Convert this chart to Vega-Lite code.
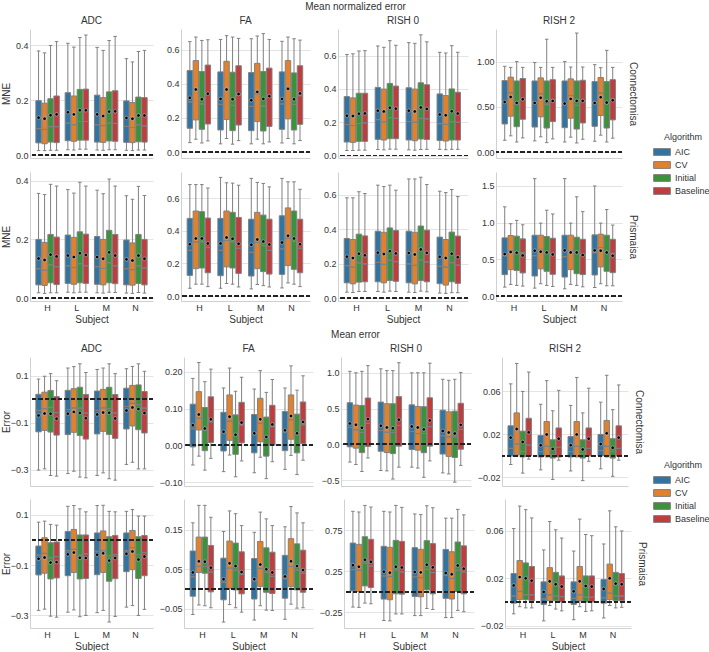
{
"$schema":"https://vega.github.io/schema/vega-lite/v6.json",
"padding":{"left":1,"top":2,"right":0,"bottom":0},
"datasets":{"d":[
{"p":"NC-ADC","Subject":"H","Algorithm":"AIC","lo":0.017,"q1":0.045,"md":0.097,"q3":0.199,"hi":0.38,"mn":0.137},
{"p":"NC-ADC","Subject":"H","Algorithm":"CV","lo":0.017,"q1":0.042,"md":0.094,"q3":0.19,"hi":0.373,"mn":0.133},
{"p":"NC-ADC","Subject":"H","Algorithm":"Initial","lo":0.018,"q1":0.048,"md":0.104,"q3":0.206,"hi":0.4,"mn":0.146},
{"p":"NC-ADC","Subject":"H","Algorithm":"Baseline","lo":0.018,"q1":0.046,"md":0.104,"q3":0.216,"hi":0.414,"mn":0.149},
{"p":"NC-ADC","Subject":"L","Algorithm":"AIC","lo":0.02,"q1":0.053,"md":0.117,"q3":0.228,"hi":0.408,"mn":0.157},
{"p":"NC-ADC","Subject":"L","Algorithm":"CV","lo":0.019,"q1":0.051,"md":0.111,"q3":0.216,"hi":0.394,"mn":0.149},
{"p":"NC-ADC","Subject":"L","Algorithm":"Initial","lo":0.022,"q1":0.055,"md":0.123,"q3":0.24,"hi":0.429,"mn":0.164},
{"p":"NC-ADC","Subject":"L","Algorithm":"Baseline","lo":0.022,"q1":0.055,"md":0.123,"q3":0.241,"hi":0.438,"mn":0.164},
{"p":"NC-ADC","Subject":"M","Algorithm":"AIC","lo":0.019,"q1":0.048,"md":0.111,"q3":0.219,"hi":0.393,"mn":0.149},
{"p":"NC-ADC","Subject":"M","Algorithm":"CV","lo":0.018,"q1":0.047,"md":0.108,"q3":0.21,"hi":0.382,"mn":0.143},
{"p":"NC-ADC","Subject":"M","Algorithm":"Initial","lo":0.02,"q1":0.052,"md":0.117,"q3":0.231,"hi":0.418,"mn":0.159},
{"p":"NC-ADC","Subject":"M","Algorithm":"Baseline","lo":0.02,"q1":0.051,"md":0.116,"q3":0.235,"hi":0.433,"mn":0.16},
{"p":"NC-ADC","Subject":"N","Algorithm":"AIC","lo":0.018,"q1":0.047,"md":0.105,"q3":0.198,"hi":0.352,"mn":0.136},
{"p":"NC-ADC","Subject":"N","Algorithm":"CV","lo":0.017,"q1":0.046,"md":0.101,"q3":0.192,"hi":0.34,"mn":0.133},
{"p":"NC-ADC","Subject":"N","Algorithm":"Initial","lo":0.019,"q1":0.049,"md":0.111,"q3":0.212,"hi":0.378,"mn":0.145},
{"p":"NC-ADC","Subject":"N","Algorithm":"Baseline","lo":0.019,"q1":0.048,"md":0.107,"q3":0.21,"hi":0.382,"mn":0.145},
{"p":"NC-FA","Subject":"H","Algorithm":"AIC","lo":0.055,"q1":0.139,"md":0.293,"q3":0.477,"hi":0.646,"mn":0.317},
{"p":"NC-FA","Subject":"H","Algorithm":"CV","lo":0.075,"q1":0.188,"md":0.368,"q3":0.535,"hi":0.673,"mn":0.366},
{"p":"NC-FA","Subject":"H","Algorithm":"Initial","lo":0.053,"q1":0.133,"md":0.281,"q3":0.471,"hi":0.653,"mn":0.309},
{"p":"NC-FA","Subject":"H","Algorithm":"Baseline","lo":0.065,"q1":0.164,"md":0.337,"q3":0.509,"hi":0.657,"mn":0.341},
{"p":"NC-FA","Subject":"L","Algorithm":"AIC","lo":0.048,"q1":0.129,"md":0.279,"q3":0.469,"hi":0.659,"mn":0.311},
{"p":"NC-FA","Subject":"L","Algorithm":"CV","lo":0.079,"q1":0.19,"md":0.366,"q3":0.531,"hi":0.681,"mn":0.366},
{"p":"NC-FA","Subject":"L","Algorithm":"Initial","lo":0.046,"q1":0.125,"md":0.273,"q3":0.467,"hi":0.673,"mn":0.309},
{"p":"NC-FA","Subject":"L","Algorithm":"Baseline","lo":0.067,"q1":0.158,"md":0.333,"q3":0.505,"hi":0.665,"mn":0.339},
{"p":"NC-FA","Subject":"M","Algorithm":"AIC","lo":0.048,"q1":0.125,"md":0.267,"q3":0.465,"hi":0.663,"mn":0.303},
{"p":"NC-FA","Subject":"M","Algorithm":"CV","lo":0.075,"q1":0.178,"md":0.341,"q3":0.519,"hi":0.679,"mn":0.352},
{"p":"NC-FA","Subject":"M","Algorithm":"Initial","lo":0.048,"q1":0.123,"md":0.269,"q3":0.471,"hi":0.693,"mn":0.311},
{"p":"NC-FA","Subject":"M","Algorithm":"Baseline","lo":0.059,"q1":0.15,"md":0.319,"q3":0.491,"hi":0.659,"mn":0.327},
{"p":"NC-FA","Subject":"N","Algorithm":"AIC","lo":0.053,"q1":0.133,"md":0.281,"q3":0.469,"hi":0.648,"mn":0.311},
{"p":"NC-FA","Subject":"N","Algorithm":"CV","lo":0.079,"q1":0.194,"md":0.368,"q3":0.535,"hi":0.673,"mn":0.37},
{"p":"NC-FA","Subject":"N","Algorithm":"Initial","lo":0.048,"q1":0.129,"md":0.279,"q3":0.463,"hi":0.663,"mn":0.309},
{"p":"NC-FA","Subject":"N","Algorithm":"Baseline","lo":0.067,"q1":0.162,"md":0.329,"q3":0.505,"hi":0.655,"mn":0.343},
{"p":"NC-R0","Subject":"H","Algorithm":"AIC","lo":0.03,"q1":0.081,"md":0.186,"q3":0.354,"hi":0.607,"mn":0.239},
{"p":"NC-R0","Subject":"H","Algorithm":"CV","lo":0.03,"q1":0.079,"md":0.18,"q3":0.346,"hi":0.611,"mn":0.237},
{"p":"NC-R0","Subject":"H","Algorithm":"Initial","lo":0.032,"q1":0.085,"md":0.192,"q3":0.374,"hi":0.628,"mn":0.251},
{"p":"NC-R0","Subject":"H","Algorithm":"Baseline","lo":0.032,"q1":0.085,"md":0.196,"q3":0.374,"hi":0.63,"mn":0.253},
{"p":"NC-R0","Subject":"L","Algorithm":"AIC","lo":0.036,"q1":0.097,"md":0.215,"q3":0.409,"hi":0.658,"mn":0.269},
{"p":"NC-R0","Subject":"L","Algorithm":"CV","lo":0.034,"q1":0.093,"md":0.202,"q3":0.399,"hi":0.65,"mn":0.265},
{"p":"NC-R0","Subject":"L","Algorithm":"Initial","lo":0.038,"q1":0.101,"md":0.227,"q3":0.433,"hi":0.69,"mn":0.287},
{"p":"NC-R0","Subject":"L","Algorithm":"Baseline","lo":0.038,"q1":0.101,"md":0.223,"q3":0.417,"hi":0.662,"mn":0.281},
{"p":"NC-R0","Subject":"M","Algorithm":"AIC","lo":0.034,"q1":0.093,"md":0.204,"q3":0.407,"hi":0.678,"mn":0.269},
{"p":"NC-R0","Subject":"M","Algorithm":"CV","lo":0.032,"q1":0.089,"md":0.2,"q3":0.399,"hi":0.674,"mn":0.265},
{"p":"NC-R0","Subject":"M","Algorithm":"Initial","lo":0.036,"q1":0.099,"md":0.223,"q3":0.437,"hi":0.725,"mn":0.289},
{"p":"NC-R0","Subject":"M","Algorithm":"Baseline","lo":0.037,"q1":0.096,"md":0.22,"q3":0.425,"hi":0.683,"mn":0.28},
{"p":"NC-R0","Subject":"N","Algorithm":"AIC","lo":0.037,"q1":0.09,"md":0.191,"q3":0.37,"hi":0.62,"mn":0.246},
{"p":"NC-R0","Subject":"N","Algorithm":"CV","lo":0.035,"q1":0.087,"md":0.187,"q3":0.36,"hi":0.616,"mn":0.242},
{"p":"NC-R0","Subject":"N","Algorithm":"Initial","lo":0.037,"q1":0.093,"md":0.203,"q3":0.4,"hi":0.66,"mn":0.266},
{"p":"NC-R0","Subject":"N","Algorithm":"Baseline","lo":0.037,"q1":0.093,"md":0.2,"q3":0.38,"hi":0.62,"mn":0.252},
{"p":"NC-R2","Subject":"H","Algorithm":"AIC","lo":0.131,"q1":0.311,"md":0.55,"q3":0.79,"hi":0.948,"mn":0.554},
{"p":"NC-R2","Subject":"H","Algorithm":"CV","lo":0.18,"q1":0.397,"md":0.655,"q3":0.828,"hi":0.936,"mn":0.61},
{"p":"NC-R2","Subject":"H","Algorithm":"Initial","lo":0.112,"q1":0.281,"md":0.53,"q3":0.786,"hi":1.0,"mn":0.543},
{"p":"NC-R2","Subject":"H","Algorithm":"Baseline","lo":0.157,"q1":0.363,"md":0.58,"q3":0.813,"hi":0.936,"mn":0.584},
{"p":"NC-R2","Subject":"L","Algorithm":"AIC","lo":0.124,"q1":0.277,"md":0.55,"q3":0.786,"hi":0.989,"mn":0.543},
{"p":"NC-R2","Subject":"L","Algorithm":"CV","lo":0.169,"q1":0.39,"md":0.644,"q3":0.82,"hi":0.936,"mn":0.6},
{"p":"NC-R2","Subject":"L","Algorithm":"Initial","lo":0.105,"q1":0.266,"md":0.524,"q3":0.786,"hi":1.247,"mn":0.562},
{"p":"NC-R2","Subject":"L","Algorithm":"Baseline","lo":0.146,"q1":0.337,"md":0.577,"q3":0.8,"hi":0.936,"mn":0.566},
{"p":"NC-R2","Subject":"M","Algorithm":"AIC","lo":0.112,"q1":0.27,"md":0.54,"q3":0.786,"hi":1.0,"mn":0.536},
{"p":"NC-R2","Subject":"M","Algorithm":"CV","lo":0.165,"q1":0.375,"md":0.625,"q3":0.809,"hi":0.94,"mn":0.588},
{"p":"NC-R2","Subject":"M","Algorithm":"Initial","lo":0.101,"q1":0.255,"md":0.517,"q3":0.786,"hi":1.315,"mn":0.566},
{"p":"NC-R2","Subject":"M","Algorithm":"Baseline","lo":0.142,"q1":0.322,"md":0.566,"q3":0.794,"hi":0.94,"mn":0.566},
{"p":"NC-R2","Subject":"N","Algorithm":"AIC","lo":0.12,"q1":0.285,"md":0.55,"q3":0.779,"hi":0.966,"mn":0.543},
{"p":"NC-R2","Subject":"N","Algorithm":"CV","lo":0.187,"q1":0.404,"md":0.652,"q3":0.824,"hi":0.933,"mn":0.607},
{"p":"NC-R2","Subject":"N","Algorithm":"Initial","lo":0.112,"q1":0.266,"md":0.543,"q3":0.779,"hi":1.124,"mn":0.547},
{"p":"NC-R2","Subject":"N","Algorithm":"Baseline","lo":0.154,"q1":0.356,"md":0.584,"q3":0.8,"hi":0.936,"mn":0.573},
{"p":"NP-ADC","Subject":"H","Algorithm":"AIC","lo":0.018,"q1":0.045,"md":0.1,"q3":0.2,"hi":0.357,"mn":0.135},
{"p":"NP-ADC","Subject":"H","Algorithm":"CV","lo":0.016,"q1":0.043,"md":0.095,"q3":0.19,"hi":0.353,"mn":0.13},
{"p":"NP-ADC","Subject":"H","Algorithm":"Initial","lo":0.018,"q1":0.052,"md":0.113,"q3":0.217,"hi":0.388,"mn":0.148},
{"p":"NP-ADC","Subject":"H","Algorithm":"Baseline","lo":0.018,"q1":0.046,"md":0.107,"q3":0.208,"hi":0.382,"mn":0.142},
{"p":"NP-ADC","Subject":"L","Algorithm":"AIC","lo":0.02,"q1":0.05,"md":0.11,"q3":0.215,"hi":0.37,"mn":0.145},
{"p":"NP-ADC","Subject":"L","Algorithm":"CV","lo":0.018,"q1":0.047,"md":0.104,"q3":0.207,"hi":0.358,"mn":0.14},
{"p":"NP-ADC","Subject":"L","Algorithm":"Initial","lo":0.02,"q1":0.052,"md":0.117,"q3":0.226,"hi":0.395,"mn":0.153},
{"p":"NP-ADC","Subject":"L","Algorithm":"Baseline","lo":0.02,"q1":0.05,"md":0.11,"q3":0.218,"hi":0.382,"mn":0.147},
{"p":"NP-ADC","Subject":"M","Algorithm":"AIC","lo":0.018,"q1":0.047,"md":0.107,"q3":0.21,"hi":0.368,"mn":0.14},
{"p":"NP-ADC","Subject":"M","Algorithm":"CV","lo":0.017,"q1":0.045,"md":0.101,"q3":0.2,"hi":0.356,"mn":0.134},
{"p":"NP-ADC","Subject":"M","Algorithm":"Initial","lo":0.02,"q1":0.052,"md":0.12,"q3":0.231,"hi":0.406,"mn":0.156},
{"p":"NP-ADC","Subject":"M","Algorithm":"Baseline","lo":0.019,"q1":0.049,"md":0.11,"q3":0.217,"hi":0.382,"mn":0.145},
{"p":"NP-ADC","Subject":"N","Algorithm":"AIC","lo":0.017,"q1":0.045,"md":0.1,"q3":0.198,"hi":0.349,"mn":0.132},
{"p":"NP-ADC","Subject":"N","Algorithm":"CV","lo":0.016,"q1":0.044,"md":0.097,"q3":0.188,"hi":0.337,"mn":0.128},
{"p":"NP-ADC","Subject":"N","Algorithm":"Initial","lo":0.019,"q1":0.05,"md":0.11,"q3":0.217,"hi":0.381,"mn":0.145},
{"p":"NP-ADC","Subject":"N","Algorithm":"Baseline","lo":0.017,"q1":0.045,"md":0.102,"q3":0.2,"hi":0.35,"mn":0.134},
{"p":"NP-FA","Subject":"H","Algorithm":"AIC","lo":0.048,"q1":0.127,"md":0.28,"q3":0.476,"hi":0.683,"mn":0.318},
{"p":"NP-FA","Subject":"H","Algorithm":"CV","lo":0.073,"q1":0.168,"md":0.332,"q3":0.521,"hi":0.683,"mn":0.353},
{"p":"NP-FA","Subject":"H","Algorithm":"Initial","lo":0.073,"q1":0.172,"md":0.332,"q3":0.517,"hi":0.683,"mn":0.353},
{"p":"NP-FA","Subject":"H","Algorithm":"Baseline","lo":0.058,"q1":0.143,"md":0.297,"q3":0.478,"hi":0.662,"mn":0.322},
{"p":"NP-FA","Subject":"L","Algorithm":"AIC","lo":0.048,"q1":0.125,"md":0.28,"q3":0.476,"hi":0.727,"mn":0.322},
{"p":"NP-FA","Subject":"L","Algorithm":"CV","lo":0.077,"q1":0.179,"md":0.341,"q3":0.521,"hi":0.694,"mn":0.359},
{"p":"NP-FA","Subject":"L","Algorithm":"Initial","lo":0.073,"q1":0.172,"md":0.332,"q3":0.513,"hi":0.692,"mn":0.351},
{"p":"NP-FA","Subject":"L","Algorithm":"Baseline","lo":0.056,"q1":0.139,"md":0.293,"q3":0.482,"hi":0.679,"mn":0.32},
{"p":"NP-FA","Subject":"M","Algorithm":"AIC","lo":0.044,"q1":0.123,"md":0.268,"q3":0.471,"hi":0.721,"mn":0.314},
{"p":"NP-FA","Subject":"M","Algorithm":"CV","lo":0.071,"q1":0.168,"md":0.33,"q3":0.513,"hi":0.696,"mn":0.347},
{"p":"NP-FA","Subject":"M","Algorithm":"Initial","lo":0.064,"q1":0.15,"md":0.309,"q3":0.496,"hi":0.69,"mn":0.334},
{"p":"NP-FA","Subject":"M","Algorithm":"Baseline","lo":0.056,"q1":0.135,"md":0.28,"q3":0.471,"hi":0.669,"mn":0.316},
{"p":"NP-FA","Subject":"N","Algorithm":"AIC","lo":0.05,"q1":0.133,"md":0.289,"q3":0.492,"hi":0.721,"mn":0.328},
{"p":"NP-FA","Subject":"N","Algorithm":"CV","lo":0.081,"q1":0.187,"md":0.355,"q3":0.54,"hi":0.7,"mn":0.37},
{"p":"NP-FA","Subject":"N","Algorithm":"Initial","lo":0.073,"q1":0.164,"md":0.334,"q3":0.521,"hi":0.7,"mn":0.353},
{"p":"NP-FA","Subject":"N","Algorithm":"Baseline","lo":0.058,"q1":0.143,"md":0.293,"q3":0.471,"hi":0.654,"mn":0.318},
{"p":"NP-R0","Subject":"H","Algorithm":"AIC","lo":0.036,"q1":0.09,"md":0.189,"q3":0.346,"hi":0.581,"mn":0.241},
{"p":"NP-R0","Subject":"H","Algorithm":"CV","lo":0.034,"q1":0.084,"md":0.18,"q3":0.34,"hi":0.581,"mn":0.233},
{"p":"NP-R0","Subject":"H","Algorithm":"Initial","lo":0.04,"q1":0.094,"md":0.205,"q3":0.371,"hi":0.616,"mn":0.258},
{"p":"NP-R0","Subject":"H","Algorithm":"Baseline","lo":0.04,"q1":0.096,"md":0.199,"q3":0.361,"hi":0.606,"mn":0.249},
{"p":"NP-R0","Subject":"L","Algorithm":"AIC","lo":0.04,"q1":0.096,"md":0.208,"q3":0.388,"hi":0.654,"mn":0.264},
{"p":"NP-R0","Subject":"L","Algorithm":"CV","lo":0.036,"q1":0.09,"md":0.197,"q3":0.382,"hi":0.646,"mn":0.256},
{"p":"NP-R0","Subject":"L","Algorithm":"Initial","lo":0.042,"q1":0.103,"md":0.22,"q3":0.407,"hi":0.654,"mn":0.273},
{"p":"NP-R0","Subject":"L","Algorithm":"Baseline","lo":0.04,"q1":0.099,"md":0.212,"q3":0.392,"hi":0.625,"mn":0.26},
{"p":"NP-R0","Subject":"M","Algorithm":"AIC","lo":0.036,"q1":0.09,"md":0.199,"q3":0.388,"hi":0.69,"mn":0.262},
{"p":"NP-R0","Subject":"M","Algorithm":"CV","lo":0.034,"q1":0.084,"md":0.191,"q3":0.382,"hi":0.69,"mn":0.254},
{"p":"NP-R0","Subject":"M","Algorithm":"Initial","lo":0.042,"q1":0.103,"md":0.222,"q3":0.418,"hi":0.7,"mn":0.283},
{"p":"NP-R0","Subject":"M","Algorithm":"Baseline","lo":0.038,"q1":0.096,"md":0.21,"q3":0.394,"hi":0.658,"mn":0.263},
{"p":"NP-R0","Subject":"N","Algorithm":"AIC","lo":0.031,"q1":0.085,"md":0.185,"q3":0.354,"hi":0.619,"mn":0.24},
{"p":"NP-R0","Subject":"N","Algorithm":"CV","lo":0.029,"q1":0.077,"md":0.181,"q3":0.34,"hi":0.611,"mn":0.233},
{"p":"NP-R0","Subject":"N","Algorithm":"Initial","lo":0.033,"q1":0.096,"md":0.206,"q3":0.383,"hi":0.629,"mn":0.258},
{"p":"NP-R0","Subject":"N","Algorithm":"Baseline","lo":0.033,"q1":0.087,"md":0.192,"q3":0.36,"hi":0.588,"mn":0.238},
{"p":"NP-R2","Subject":"H","Algorithm":"AIC","lo":0.124,"q1":0.294,"md":0.55,"q3":0.794,"hi":1.216,"mn":0.573},
{"p":"NP-R2","Subject":"H","Algorithm":"CV","lo":0.161,"q1":0.362,"md":0.62,"q3":0.826,"hi":0.986,"mn":0.601},
{"p":"NP-R2","Subject":"H","Algorithm":"Initial","lo":0.147,"q1":0.349,"md":0.606,"q3":0.817,"hi":1.032,"mn":0.592},
{"p":"NP-R2","Subject":"H","Algorithm":"Baseline","lo":0.138,"q1":0.317,"md":0.592,"q3":0.78,"hi":0.972,"mn":0.555},
{"p":"NP-R2","Subject":"L","Algorithm":"AIC","lo":0.11,"q1":0.275,"md":0.55,"q3":0.83,"hi":1.6,"mn":0.619},
{"p":"NP-R2","Subject":"L","Algorithm":"CV","lo":0.17,"q1":0.372,"md":0.638,"q3":0.83,"hi":0.995,"mn":0.606},
{"p":"NP-R2","Subject":"L","Algorithm":"Initial","lo":0.147,"q1":0.339,"md":0.583,"q3":0.812,"hi":1.17,"mn":0.596},
{"p":"NP-R2","Subject":"L","Algorithm":"Baseline","lo":0.133,"q1":0.298,"md":0.56,"q3":0.789,"hi":1.119,"mn":0.569},
{"p":"NP-R2","Subject":"M","Algorithm":"AIC","lo":0.101,"q1":0.261,"md":0.537,"q3":0.83,"hi":1.6,"mn":0.624},
{"p":"NP-R2","Subject":"M","Algorithm":"CV","lo":0.161,"q1":0.362,"md":0.62,"q3":0.83,"hi":0.995,"mn":0.596},
{"p":"NP-R2","Subject":"M","Algorithm":"Initial","lo":0.147,"q1":0.307,"md":0.592,"q3":0.803,"hi":1.353,"mn":0.596},
{"p":"NP-R2","Subject":"M","Algorithm":"Baseline","lo":0.128,"q1":0.294,"md":0.56,"q3":0.775,"hi":1.151,"mn":0.56},
{"p":"NP-R2","Subject":"N","Algorithm":"AIC","lo":0.119,"q1":0.289,"md":0.592,"q3":0.835,"hi":1.5,"mn":0.624},
{"p":"NP-R2","Subject":"N","Algorithm":"CV","lo":0.17,"q1":0.399,"md":0.661,"q3":0.844,"hi":0.995,"mn":0.619},
{"p":"NP-R2","Subject":"N","Algorithm":"Initial","lo":0.142,"q1":0.339,"md":0.601,"q3":0.83,"hi":1.179,"mn":0.596},
{"p":"NP-R2","Subject":"N","Algorithm":"Baseline","lo":0.142,"q1":0.321,"md":0.583,"q3":0.775,"hi":0.968,"mn":0.55},
{"p":"EC-ADC","Subject":"H","Algorithm":"AIC","lo":-0.302,"q1":-0.139,"md":-0.048,"q3":0.021,"hi":0.086,"mn":-0.069},
{"p":"EC-ADC","Subject":"H","Algorithm":"CV","lo":-0.297,"q1":-0.133,"md":-0.04,"q3":0.03,"hi":0.098,"mn":-0.061},
{"p":"EC-ADC","Subject":"H","Algorithm":"Initial","lo":-0.325,"q1":-0.14,"md":-0.035,"q3":0.037,"hi":0.109,"mn":-0.062},
{"p":"EC-ADC","Subject":"H","Algorithm":"Baseline","lo":-0.328,"q1":-0.153,"md":-0.057,"q3":0.011,"hi":0.079,"mn":-0.083},
{"p":"EC-ADC","Subject":"L","Algorithm":"AIC","lo":-0.317,"q1":-0.151,"md":-0.044,"q3":0.038,"hi":0.133,"mn":-0.062},
{"p":"EC-ADC","Subject":"L","Algorithm":"CV","lo":-0.307,"q1":-0.141,"md":-0.037,"q3":0.045,"hi":0.139,"mn":-0.054},
{"p":"EC-ADC","Subject":"L","Algorithm":"Initial","lo":-0.332,"q1":-0.155,"md":-0.038,"q3":0.051,"hi":0.151,"mn":-0.059},
{"p":"EC-ADC","Subject":"L","Algorithm":"Baseline","lo":-0.335,"q1":-0.17,"md":-0.059,"q3":0.02,"hi":0.114,"mn":-0.081},
{"p":"EC-ADC","Subject":"M","Algorithm":"AIC","lo":-0.325,"q1":-0.148,"md":-0.048,"q3":0.035,"hi":0.127,"mn":-0.065},
{"p":"EC-ADC","Subject":"M","Algorithm":"CV","lo":-0.314,"q1":-0.137,"md":-0.037,"q3":0.042,"hi":0.133,"mn":-0.057},
{"p":"EC-ADC","Subject":"M","Algorithm":"Initial","lo":-0.339,"q1":-0.15,"md":-0.04,"q3":0.051,"hi":0.151,"mn":-0.058},
{"p":"EC-ADC","Subject":"M","Algorithm":"Baseline","lo":-0.345,"q1":-0.167,"md":-0.059,"q3":0.02,"hi":0.109,"mn":-0.082},
{"p":"EC-ADC","Subject":"N","Algorithm":"AIC","lo":-0.278,"q1":-0.127,"md":-0.031,"q3":0.047,"hi":0.13,"mn":-0.048},
{"p":"EC-ADC","Subject":"N","Algorithm":"CV","lo":-0.269,"q1":-0.114,"md":-0.017,"q3":0.059,"hi":0.14,"mn":-0.035},
{"p":"EC-ADC","Subject":"N","Algorithm":"Initial","lo":-0.297,"q1":-0.13,"md":-0.023,"q3":0.061,"hi":0.151,"mn":-0.042},
{"p":"EC-ADC","Subject":"N","Algorithm":"Baseline","lo":-0.297,"q1":-0.144,"md":-0.038,"q3":0.033,"hi":0.119,"mn":-0.059},
{"p":"EC-FA","Subject":"H","Algorithm":"AIC","lo":-0.053,"q1":-0.004,"md":0.045,"q3":0.112,"hi":0.182,"mn":0.055},
{"p":"EC-FA","Subject":"H","Algorithm":"CV","lo":-0.029,"q1":0.042,"md":0.074,"q3":0.146,"hi":0.225,"mn":0.084},
{"p":"EC-FA","Subject":"H","Algorithm":"Initial","lo":-0.067,"q1":-0.014,"md":0.042,"q3":0.103,"hi":0.173,"mn":0.046},
{"p":"EC-FA","Subject":"H","Algorithm":"Baseline","lo":-0.035,"q1":0.008,"md":0.064,"q3":0.132,"hi":0.207,"mn":0.071},
{"p":"EC-FA","Subject":"L","Algorithm":"AIC","lo":-0.071,"q1":-0.015,"md":0.037,"q3":0.09,"hi":0.156,"mn":0.037},
{"p":"EC-FA","Subject":"L","Algorithm":"CV","lo":-0.026,"q1":0.014,"md":0.066,"q3":0.137,"hi":0.21,"mn":0.078},
{"p":"EC-FA","Subject":"L","Algorithm":"Initial","lo":-0.085,"q1":-0.024,"md":0.03,"q3":0.083,"hi":0.147,"mn":0.029},
{"p":"EC-FA","Subject":"L","Algorithm":"Baseline","lo":-0.042,"q1":0.007,"md":0.055,"q3":0.117,"hi":0.185,"mn":0.062},
{"p":"EC-FA","Subject":"M","Algorithm":"AIC","lo":-0.074,"q1":-0.02,"md":0.033,"q3":0.084,"hi":0.153,"mn":0.033},
{"p":"EC-FA","Subject":"M","Algorithm":"CV","lo":-0.032,"q1":0.01,"md":0.06,"q3":0.128,"hi":0.203,"mn":0.071},
{"p":"EC-FA","Subject":"M","Algorithm":"Initial","lo":-0.09,"q1":-0.029,"md":0.022,"q3":0.077,"hi":0.144,"mn":0.023},
{"p":"EC-FA","Subject":"M","Algorithm":"Baseline","lo":-0.044,"q1":0.001,"md":0.051,"q3":0.109,"hi":0.179,"mn":0.057},
{"p":"EC-FA","Subject":"N","Algorithm":"AIC","lo":-0.065,"q1":-0.014,"md":0.037,"q3":0.092,"hi":0.156,"mn":0.041},
{"p":"EC-FA","Subject":"N","Algorithm":"CV","lo":-0.027,"q1":0.017,"md":0.07,"q3":0.137,"hi":0.216,"mn":0.08},
{"p":"EC-FA","Subject":"N","Algorithm":"Initial","lo":-0.079,"q1":-0.02,"md":0.033,"q3":0.085,"hi":0.15,"mn":0.033},
{"p":"EC-FA","Subject":"N","Algorithm":"Baseline","lo":-0.04,"q1":0.005,"md":0.056,"q3":0.118,"hi":0.189,"mn":0.064},
{"p":"EC-R0","Subject":"H","Algorithm":"AIC","lo":-0.246,"q1":-0.033,"md":0.237,"q3":0.582,"hi":1.02,"mn":0.293},
{"p":"EC-R0","Subject":"H","Algorithm":"CV","lo":-0.28,"q1":-0.052,"md":0.203,"q3":0.549,"hi":1.0,"mn":0.274},
{"p":"EC-R0","Subject":"H","Algorithm":"Initial","lo":-0.378,"q1":-0.114,"md":0.166,"q3":0.544,"hi":1.02,"mn":0.232},
{"p":"EC-R0","Subject":"H","Algorithm":"Baseline","lo":-0.189,"q1":-0.028,"md":0.293,"q3":0.648,"hi":1.1,"mn":0.355},
{"p":"EC-R0","Subject":"L","Algorithm":"AIC","lo":-0.364,"q1":-0.095,"md":0.194,"q3":0.591,"hi":1.055,"mn":0.26},
{"p":"EC-R0","Subject":"L","Algorithm":"CV","lo":-0.369,"q1":-0.114,"md":0.17,"q3":0.568,"hi":1.03,"mn":0.237},
{"p":"EC-R0","Subject":"L","Algorithm":"Initial","lo":-0.483,"q1":-0.128,"md":0.166,"q3":0.568,"hi":1.03,"mn":0.227},
{"p":"EC-R0","Subject":"L","Algorithm":"Baseline","lo":-0.317,"q1":-0.024,"md":0.265,"q3":0.667,"hi":1.14,"mn":0.345},
{"p":"EC-R0","Subject":"M","Algorithm":"AIC","lo":-0.317,"q1":-0.071,"md":0.18,"q3":0.553,"hi":1.0,"mn":0.251},
{"p":"EC-R0","Subject":"M","Algorithm":"CV","lo":-0.33,"q1":-0.08,"md":0.151,"q3":0.53,"hi":1.0,"mn":0.237},
{"p":"EC-R0","Subject":"M","Algorithm":"Initial","lo":-0.459,"q1":-0.115,"md":0.153,"q3":0.526,"hi":1.0,"mn":0.21},
{"p":"EC-R0","Subject":"M","Algorithm":"Baseline","lo":-0.23,"q1":-0.024,"md":0.249,"q3":0.651,"hi":1.134,"mn":0.335},
{"p":"EC-R0","Subject":"N","Algorithm":"AIC","lo":-0.397,"q1":-0.134,"md":0.12,"q3":0.478,"hi":0.909,"mn":0.187},
{"p":"EC-R0","Subject":"N","Algorithm":"CV","lo":-0.411,"q1":-0.167,"md":0.105,"q3":0.455,"hi":0.895,"mn":0.167},
{"p":"EC-R0","Subject":"N","Algorithm":"Initial","lo":-0.526,"q1":-0.182,"md":0.105,"q3":0.464,"hi":0.909,"mn":0.153},
{"p":"EC-R0","Subject":"N","Algorithm":"Baseline","lo":-0.292,"q1":-0.067,"md":0.211,"q3":0.574,"hi":1.005,"mn":0.273},
{"p":"EC-R2","Subject":"H","Algorithm":"AIC","lo":-0.008,"q1":0.0,"md":0.007,"q3":0.028,"hi":0.067,"mn":0.017},
{"p":"EC-R2","Subject":"H","Algorithm":"CV","lo":0.0,"q1":0.001,"md":0.011,"q3":0.04,"hi":0.086,"mn":0.025},
{"p":"EC-R2","Subject":"H","Algorithm":"Initial","lo":-0.016,"q1":-0.001,"md":0.004,"q3":0.023,"hi":0.06,"mn":0.013},
{"p":"EC-R2","Subject":"H","Algorithm":"Baseline","lo":-0.003,"q1":0.0,"md":0.01,"q3":0.035,"hi":0.078,"mn":0.022},
{"p":"EC-R2","Subject":"L","Algorithm":"AIC","lo":-0.013,"q1":-0.001,"md":0.004,"q3":0.019,"hi":0.048,"mn":0.01},
{"p":"EC-R2","Subject":"L","Algorithm":"CV","lo":-0.001,"q1":0.0,"md":0.009,"q3":0.032,"hi":0.07,"mn":0.02},
{"p":"EC-R2","Subject":"L","Algorithm":"Initial","lo":-0.022,"q1":-0.002,"md":0.001,"q3":0.015,"hi":0.042,"mn":0.0065},
{"p":"EC-R2","Subject":"L","Algorithm":"Baseline","lo":-0.004,"q1":-0.001,"md":0.008,"q3":0.026,"hi":0.061,"mn":0.016},
{"p":"EC-R2","Subject":"M","Algorithm":"AIC","lo":-0.014,"q1":-0.001,"md":0.004,"q3":0.018,"hi":0.047,"mn":0.01},
{"p":"EC-R2","Subject":"M","Algorithm":"CV","lo":-0.001,"q1":0.0,"md":0.009,"q3":0.032,"hi":0.073,"mn":0.02},
{"p":"EC-R2","Subject":"M","Algorithm":"Initial","lo":-0.023,"q1":-0.002,"md":0.002,"q3":0.015,"hi":0.04,"mn":0.006},
{"p":"EC-R2","Subject":"M","Algorithm":"Baseline","lo":-0.005,"q1":0.0,"md":0.007,"q3":0.026,"hi":0.063,"mn":0.016},
{"p":"EC-R2","Subject":"N","Algorithm":"AIC","lo":-0.012,"q1":0.0,"md":0.005,"q3":0.02,"hi":0.05,"mn":0.011},
{"p":"EC-R2","Subject":"N","Algorithm":"CV","lo":-0.001,"q1":0.0,"md":0.009,"q3":0.033,"hi":0.075,"mn":0.021},
{"p":"EC-R2","Subject":"N","Algorithm":"Initial","lo":-0.019,"q1":-0.002,"md":0.004,"q3":0.016,"hi":0.043,"mn":0.0075},
{"p":"EC-R2","Subject":"N","Algorithm":"Baseline","lo":-0.004,"q1":0.0,"md":0.007,"q3":0.028,"hi":0.066,"mn":0.017},
{"p":"EP-ADC","Subject":"H","Algorithm":"AIC","lo":-0.28,"q1":-0.139,"md":-0.06,"q3":-0.024,"hi":0.071,"mn":-0.075},
{"p":"EP-ADC","Subject":"H","Algorithm":"CV","lo":-0.275,"q1":-0.132,"md":-0.053,"q3":0.009,"hi":0.075,"mn":-0.07},
{"p":"EP-ADC","Subject":"H","Algorithm":"Initial","lo":-0.303,"q1":-0.155,"md":-0.071,"q3":-0.011,"hi":0.062,"mn":-0.09},
{"p":"EP-ADC","Subject":"H","Algorithm":"Baseline","lo":-0.307,"q1":-0.151,"md":-0.066,"q3":-0.008,"hi":0.059,"mn":-0.088},
{"p":"EP-ADC","Subject":"L","Algorithm":"AIC","lo":-0.287,"q1":-0.142,"md":-0.043,"q3":0.034,"hi":0.134,"mn":-0.057},
{"p":"EP-ADC","Subject":"L","Algorithm":"CV","lo":-0.278,"q1":-0.129,"md":-0.037,"q3":0.042,"hi":0.137,"mn":-0.05},
{"p":"EP-ADC","Subject":"L","Algorithm":"Initial","lo":-0.305,"q1":-0.155,"md":-0.06,"q3":0.02,"hi":0.124,"mn":-0.071},
{"p":"EP-ADC","Subject":"L","Algorithm":"Baseline","lo":-0.3,"q1":-0.153,"md":-0.055,"q3":0.02,"hi":0.112,"mn":-0.072},
{"p":"EP-ADC","Subject":"M","Algorithm":"AIC","lo":-0.289,"q1":-0.138,"md":-0.045,"q3":0.028,"hi":0.137,"mn":-0.059},
{"p":"EP-ADC","Subject":"M","Algorithm":"CV","lo":-0.28,"q1":-0.129,"md":-0.043,"q3":0.036,"hi":0.138,"mn":-0.053},
{"p":"EP-ADC","Subject":"M","Algorithm":"Initial","lo":-0.326,"q1":-0.164,"md":-0.063,"q3":0.013,"hi":0.114,"mn":-0.082},
{"p":"EP-ADC","Subject":"M","Algorithm":"Baseline","lo":-0.304,"q1":-0.154,"md":-0.059,"q3":0.018,"hi":0.112,"mn":-0.072},
{"p":"EP-ADC","Subject":"N","Algorithm":"AIC","lo":-0.267,"q1":-0.126,"md":-0.043,"q3":0.028,"hi":0.114,"mn":-0.055},
{"p":"EP-ADC","Subject":"N","Algorithm":"CV","lo":-0.261,"q1":-0.118,"md":-0.03,"q3":0.038,"hi":0.121,"mn":-0.046},
{"p":"EP-ADC","Subject":"N","Algorithm":"Initial","lo":-0.3,"q1":-0.153,"md":-0.059,"q3":0.013,"hi":0.095,"mn":-0.078},
{"p":"EP-ADC","Subject":"N","Algorithm":"Baseline","lo":-0.276,"q1":-0.142,"md":-0.05,"q3":0.018,"hi":0.095,"mn":-0.066},
{"p":"EP-FA","Subject":"H","Algorithm":"AIC","lo":-0.064,"q1":-0.018,"md":0.031,"q3":0.096,"hi":0.167,"mn":0.042},
{"p":"EP-FA","Subject":"H","Algorithm":"CV","lo":-0.04,"q1":0.042,"md":0.057,"q3":0.131,"hi":0.211,"mn":0.07},
{"p":"EP-FA","Subject":"H","Algorithm":"Initial","lo":-0.042,"q1":0.04,"md":0.057,"q3":0.131,"hi":0.211,"mn":0.069},
{"p":"EP-FA","Subject":"H","Algorithm":"Baseline","lo":-0.047,"q1":-0.007,"md":0.043,"q3":0.11,"hi":0.181,"mn":0.054},
{"p":"EP-FA","Subject":"L","Algorithm":"AIC","lo":-0.083,"q1":-0.027,"md":0.017,"q3":0.078,"hi":0.145,"mn":0.025},
{"p":"EP-FA","Subject":"L","Algorithm":"CV","lo":-0.039,"q1":0.002,"md":0.053,"q3":0.121,"hi":0.197,"mn":0.065},
{"p":"EP-FA","Subject":"L","Algorithm":"Initial","lo":-0.047,"q1":-0.002,"md":0.048,"q3":0.116,"hi":0.19,"mn":0.058},
{"p":"EP-FA","Subject":"L","Algorithm":"Baseline","lo":-0.058,"q1":-0.012,"md":0.037,"q3":0.094,"hi":0.16,"mn":0.043},
{"p":"EP-FA","Subject":"M","Algorithm":"AIC","lo":-0.078,"q1":-0.025,"md":0.021,"q3":0.077,"hi":0.143,"mn":0.025},
{"p":"EP-FA","Subject":"M","Algorithm":"CV","lo":-0.042,"q1":0.007,"md":0.052,"q3":0.12,"hi":0.194,"mn":0.062},
{"p":"EP-FA","Subject":"M","Algorithm":"Initial","lo":-0.053,"q1":-0.008,"md":0.042,"q3":0.104,"hi":0.177,"mn":0.05},
{"p":"EP-FA","Subject":"M","Algorithm":"Baseline","lo":-0.054,"q1":-0.011,"md":0.032,"q3":0.093,"hi":0.16,"mn":0.042},
{"p":"EP-FA","Subject":"N","Algorithm":"AIC","lo":-0.076,"q1":-0.023,"md":0.026,"q3":0.085,"hi":0.157,"mn":0.032},
{"p":"EP-FA","Subject":"N","Algorithm":"CV","lo":-0.038,"q1":0.006,"md":0.057,"q3":0.127,"hi":0.208,"mn":0.07},
{"p":"EP-FA","Subject":"N","Algorithm":"Initial","lo":-0.048,"q1":-0.002,"md":0.048,"q3":0.114,"hi":0.192,"mn":0.058},
{"p":"EP-FA","Subject":"N","Algorithm":"Baseline","lo":-0.047,"q1":-0.008,"md":0.04,"q3":0.098,"hi":0.167,"mn":0.048},
{"p":"EP-R0","Subject":"H","Algorithm":"AIC","lo":-0.185,"q1":0.012,"md":0.27,"q3":0.594,"hi":0.98,"mn":0.325},
{"p":"EP-R0","Subject":"H","Algorithm":"CV","lo":-0.189,"q1":0.004,"md":0.265,"q3":0.578,"hi":0.972,"mn":0.305},
{"p":"EP-R0","Subject":"H","Algorithm":"Initial","lo":-0.137,"q1":0.072,"md":0.349,"q3":0.671,"hi":1.052,"mn":0.39},
{"p":"EP-R0","Subject":"H","Algorithm":"Baseline","lo":-0.145,"q1":0.052,"md":0.313,"q3":0.639,"hi":1.032,"mn":0.365},
{"p":"EP-R0","Subject":"L","Algorithm":"AIC","lo":-0.349,"q1":-0.088,"md":0.193,"q3":0.554,"hi":0.98,"mn":0.245},
{"p":"EP-R0","Subject":"L","Algorithm":"CV","lo":-0.353,"q1":-0.096,"md":0.185,"q3":0.542,"hi":0.972,"mn":0.233},
{"p":"EP-R0","Subject":"L","Algorithm":"Initial","lo":-0.269,"q1":-0.024,"md":0.265,"q3":0.627,"hi":1.052,"mn":0.305},
{"p":"EP-R0","Subject":"L","Algorithm":"Baseline","lo":-0.269,"q1":-0.028,"md":0.241,"q3":0.614,"hi":1.028,"mn":0.297},
{"p":"EP-R0","Subject":"M","Algorithm":"AIC","lo":-0.289,"q1":-0.056,"md":0.182,"q3":0.538,"hi":0.948,"mn":0.241},
{"p":"EP-R0","Subject":"M","Algorithm":"CV","lo":-0.289,"q1":-0.06,"md":0.173,"q3":0.518,"hi":0.94,"mn":0.237},
{"p":"EP-R0","Subject":"M","Algorithm":"Initial","lo":-0.202,"q1":0.024,"md":0.274,"q3":0.623,"hi":1.048,"mn":0.33},
{"p":"EP-R0","Subject":"M","Algorithm":"Baseline","lo":-0.214,"q1":-0.024,"md":0.234,"q3":0.587,"hi":1.024,"mn":0.298},
{"p":"EP-R0","Subject":"N","Algorithm":"AIC","lo":-0.313,"q1":-0.079,"md":0.198,"q3":0.516,"hi":0.897,"mn":0.23},
{"p":"EP-R0","Subject":"N","Algorithm":"CV","lo":-0.313,"q1":-0.087,"md":0.163,"q3":0.488,"hi":0.897,"mn":0.214},
{"p":"EP-R0","Subject":"N","Algorithm":"Initial","lo":-0.226,"q1":0.004,"md":0.262,"q3":0.607,"hi":1.004,"mn":0.321},
{"p":"EP-R0","Subject":"N","Algorithm":"Baseline","lo":-0.242,"q1":-0.024,"md":0.242,"q3":0.56,"hi":0.937,"mn":0.282},
{"p":"EP-R2","Subject":"H","Algorithm":"AIC","lo":-0.01,"q1":-0.001,"md":0.005,"q3":0.024,"hi":0.062,"mn":0.014},
{"p":"EP-R2","Subject":"H","Algorithm":"CV","lo":-0.004,"q1":0.002,"md":0.009,"q3":0.035,"hi":0.081,"mn":0.021},
{"p":"EP-R2","Subject":"H","Algorithm":"Initial","lo":-0.005,"q1":0.002,"md":0.006,"q3":0.033,"hi":0.078,"mn":0.02},
{"p":"EP-R2","Subject":"H","Algorithm":"Baseline","lo":-0.005,"q1":0.001,"md":0.006,"q3":0.03,"hi":0.071,"mn":0.018},
{"p":"EP-R2","Subject":"L","Algorithm":"AIC","lo":-0.016,"q1":-0.002,"md":0.0025,"q3":0.017,"hi":0.044,"mn":0.0085},
{"p":"EP-R2","Subject":"L","Algorithm":"CV","lo":-0.003,"q1":0.001,"md":0.006,"q3":0.029,"hi":0.068,"mn":0.0175},
{"p":"EP-R2","Subject":"L","Algorithm":"Initial","lo":-0.006,"q1":0.001,"md":0.005,"q3":0.025,"hi":0.061,"mn":0.015},
{"p":"EP-R2","Subject":"L","Algorithm":"Baseline","lo":-0.0075,"q1":0.0,"md":0.0045,"q3":0.022,"hi":0.054,"mn":0.013},
{"p":"EP-R2","Subject":"M","Algorithm":"AIC","lo":-0.015,"q1":-0.002,"md":0.003,"q3":0.017,"hi":0.043,"mn":0.009},
{"p":"EP-R2","Subject":"M","Algorithm":"CV","lo":-0.004,"q1":0.001,"md":0.006,"q3":0.03,"hi":0.07,"mn":0.0175},
{"p":"EP-R2","Subject":"M","Algorithm":"Initial","lo":-0.008,"q1":0.0,"md":0.004,"q3":0.022,"hi":0.057,"mn":0.0135},
{"p":"EP-R2","Subject":"M","Algorithm":"Baseline","lo":-0.0075,"q1":0.0,"md":0.004,"q3":0.022,"hi":0.056,"mn":0.013},
{"p":"EP-R2","Subject":"N","Algorithm":"AIC","lo":-0.0135,"q1":-0.001,"md":0.0035,"q3":0.019,"hi":0.049,"mn":0.011},
{"p":"EP-R2","Subject":"N","Algorithm":"CV","lo":-0.003,"q1":0.002,"md":0.0075,"q3":0.032,"hi":0.077,"mn":0.02},
{"p":"EP-R2","Subject":"N","Algorithm":"Initial","lo":-0.005,"q1":0.001,"md":0.005,"q3":0.025,"hi":0.0635,"mn":0.0155},
{"p":"EP-R2","Subject":"N","Algorithm":"Baseline","lo":-0.0045,"q1":0.001,"md":0.005,"q3":0.024,"hi":0.06,"mn":0.015}
]},
"data":{"name":"d"},
"resolve":{"scale":{"color":"independent"}},
"spacing":6,
"vconcat":[
{"title":{"text":"Mean normalized error","anchor":"middle","frame":"bounds","offset":4},"spacing":11,"vconcat":[
{"hconcat":[
{"width":123,"height":129,"title":{"text":"ADC"},"transform":[{"filter":"datum.p=='NC-ADC'"}],"layer":[{"encoding":{"x":{"field":"Subject","type":"nominal","title":null,"axis":{"labels":false}},"xOffset":{"field":"Algorithm","type":"nominal","sort":["AIC","CV","Initial","Baseline"]}},"layer":[
{"mark":"rule","encoding":{"y":{"field":"lo","type":"quantitative","title":"MNE","scale":{"domain":[-0.01,0.46],"nice":false,"zero":false},"axis":{"values":[0,0.1,0.2,0.3,0.4],"format":".1f","minExtent":16,"maxExtent":16}},"y2":{"field":"hi"}}},
{"mark":"tick","encoding":{"y":{"field":"lo","type":"quantitative"}}},
{"mark":"tick","encoding":{"y":{"field":"hi","type":"quantitative"}}},
{"mark":"bar","encoding":{"y":{"field":"q1","type":"quantitative"},"y2":{"field":"q3"},"color":{"field":"Algorithm","type":"nominal","scale":{"domain":["AIC","CV","Initial","Baseline"]},"legend":{"symbolType":"M-1.6,-0.65H1.6V0.65H-1.6Z","orient":"none","legendX":626,"legendY":104}}}},
{"mark":"bar","encoding":{"y":{"field":"md","type":"quantitative"},"y2":{"field":"md"}}},
{"mark":"point","encoding":{"y":{"field":"mn","type":"quantitative"}}}]},
{"mark":{"type":"rule","color":"#222","strokeDash":[4,2.5],"strokeWidth":1.2},"encoding":{"y":{"datum":0}}}]},
{"width":129,"height":129,"title":{"text":"FA"},"transform":[{"filter":"datum.p=='NC-FA'"}],"layer":[{"encoding":{"x":{"field":"Subject","type":"nominal","title":null,"axis":{"labels":false}},"xOffset":{"field":"Algorithm","type":"nominal","sort":["AIC","CV","Initial","Baseline"]}},"layer":[
{"mark":"rule","encoding":{"y":{"field":"lo","type":"quantitative","title":null,"scale":{"domain":[-0.035,0.72],"nice":false,"zero":false},"axis":{"values":[0,0.2,0.4,0.6],"format":".1f"}},"y2":{"field":"hi"}}},
{"mark":"tick","encoding":{"y":{"field":"lo","type":"quantitative"}}},
{"mark":"tick","encoding":{"y":{"field":"hi","type":"quantitative"}}},
{"mark":"bar","encoding":{"y":{"field":"q1","type":"quantitative"},"y2":{"field":"q3"},"color":{"field":"Algorithm","type":"nominal","scale":{"domain":["AIC","CV","Initial","Baseline"]},"legend":{"symbolType":"M-1.6,-0.65H1.6V0.65H-1.6Z","orient":"none","legendX":626,"legendY":104}}}},
{"mark":"bar","encoding":{"y":{"field":"md","type":"quantitative"},"y2":{"field":"md"}}},
{"mark":"point","encoding":{"y":{"field":"mn","type":"quantitative"}}}]},
{"mark":{"type":"rule","color":"#222","strokeDash":[4,2.5],"strokeWidth":1.2},"encoding":{"y":{"datum":0}}}]},
{"width":130,"height":129,"title":{"text":"RISH 0"},"transform":[{"filter":"datum.p=='NC-R0'"}],"layer":[{"encoding":{"x":{"field":"Subject","type":"nominal","title":null,"axis":{"labels":false}},"xOffset":{"field":"Algorithm","type":"nominal","sort":["AIC","CV","Initial","Baseline"]}},"layer":[
{"mark":"rule","encoding":{"y":{"field":"lo","type":"quantitative","title":null,"scale":{"domain":[-0.015,0.76],"nice":false,"zero":false},"axis":{"values":[0,0.2,0.4,0.6],"format":".1f"}},"y2":{"field":"hi"}}},
{"mark":"tick","encoding":{"y":{"field":"lo","type":"quantitative"}}},
{"mark":"tick","encoding":{"y":{"field":"hi","type":"quantitative"}}},
{"mark":"bar","encoding":{"y":{"field":"q1","type":"quantitative"},"y2":{"field":"q3"},"color":{"field":"Algorithm","type":"nominal","scale":{"domain":["AIC","CV","Initial","Baseline"]},"legend":{"symbolType":"M-1.6,-0.65H1.6V0.65H-1.6Z","orient":"none","legendX":626,"legendY":104}}}},
{"mark":"bar","encoding":{"y":{"field":"md","type":"quantitative"},"y2":{"field":"md"}}},
{"mark":"point","encoding":{"y":{"field":"mn","type":"quantitative"}}}]},
{"mark":{"type":"rule","color":"#222","strokeDash":[4,2.5],"strokeWidth":1.2},"encoding":{"y":{"datum":0}}}]},
{"width":126,"height":129,"title":{"text":"RISH 2"},"transform":[{"filter":"datum.p=='NC-R2'"}],"resolve":{"axis":{"y":"independent"}},"layer":[{"encoding":{"x":{"field":"Subject","type":"nominal","title":null,"axis":{"labels":false}},"xOffset":{"field":"Algorithm","type":"nominal","sort":["AIC","CV","Initial","Baseline"]}},"layer":[
{"mark":"rule","encoding":{"y":{"field":"lo","type":"quantitative","title":null,"scale":{"domain":[-0.065,1.36],"nice":false,"zero":false},"axis":{"values":[0,0.25,0.5,0.75,1,1.25],"format":".2f"}},"y2":{"field":"hi"}}},
{"mark":"tick","encoding":{"y":{"field":"lo","type":"quantitative"}}},
{"mark":"tick","encoding":{"y":{"field":"hi","type":"quantitative"}}},
{"mark":"bar","encoding":{"y":{"field":"q1","type":"quantitative"},"y2":{"field":"q3"},"color":{"field":"Algorithm","type":"nominal","scale":{"domain":["AIC","CV","Initial","Baseline"]},"legend":{"symbolType":"M-1.6,-0.65H1.6V0.65H-1.6Z","orient":"none","legendX":626,"legendY":104}}}},
{"mark":"bar","encoding":{"y":{"field":"md","type":"quantitative"},"y2":{"field":"md"}}},
{"mark":"point","encoding":{"y":{"field":"mn","type":"quantitative"}}}]},
{"mark":{"type":"rule","color":"#222","strokeDash":[4,2.5],"strokeWidth":1.2},"encoding":{"y":{"datum":0,"type":"quantitative","axis":{"title":"Connectomisa","orient":"right","labels":false,"grid":false,"domain":false,"ticks":false,"minExtent":0,"maxExtent":0,"titlePadding":5,"titleAngle":90}}}}]}
]},
{"hconcat":[
{"width":123,"height":129,"transform":[{"filter":"datum.p=='NP-ADC'"}],"layer":[{"encoding":{"x":{"field":"Subject","type":"nominal"},"xOffset":{"field":"Algorithm","type":"nominal","sort":["AIC","CV","Initial","Baseline"]}},"layer":[
{"mark":"rule","encoding":{"y":{"field":"lo","type":"quantitative","title":"MNE","scale":{"domain":[-0.01,0.43],"nice":false,"zero":false},"axis":{"values":[0,0.1,0.2,0.3,0.4],"format":".1f","minExtent":16,"maxExtent":16}},"y2":{"field":"hi"}}},
{"mark":"tick","encoding":{"y":{"field":"lo","type":"quantitative"}}},
{"mark":"tick","encoding":{"y":{"field":"hi","type":"quantitative"}}},
{"mark":"bar","encoding":{"y":{"field":"q1","type":"quantitative"},"y2":{"field":"q3"},"color":{"field":"Algorithm","type":"nominal","scale":{"domain":["AIC","CV","Initial","Baseline"]},"legend":{"symbolType":"M-1.6,-0.65H1.6V0.65H-1.6Z","orient":"none","legendX":626,"legendY":104}}}},
{"mark":"bar","encoding":{"y":{"field":"md","type":"quantitative"},"y2":{"field":"md"}}},
{"mark":"point","encoding":{"y":{"field":"mn","type":"quantitative"}}}]},
{"mark":{"type":"rule","color":"#222","strokeDash":[4,2.5],"strokeWidth":1.2},"encoding":{"y":{"datum":0}}}]},
{"width":129,"height":129,"transform":[{"filter":"datum.p=='NP-FA'"}],"layer":[{"encoding":{"x":{"field":"Subject","type":"nominal"},"xOffset":{"field":"Algorithm","type":"nominal","sort":["AIC","CV","Initial","Baseline"]}},"layer":[
{"mark":"rule","encoding":{"y":{"field":"lo","type":"quantitative","title":null,"scale":{"domain":[-0.03,0.76],"nice":false,"zero":false},"axis":{"values":[0,0.2,0.4,0.6],"format":".1f"}},"y2":{"field":"hi"}}},
{"mark":"tick","encoding":{"y":{"field":"lo","type":"quantitative"}}},
{"mark":"tick","encoding":{"y":{"field":"hi","type":"quantitative"}}},
{"mark":"bar","encoding":{"y":{"field":"q1","type":"quantitative"},"y2":{"field":"q3"},"color":{"field":"Algorithm","type":"nominal","scale":{"domain":["AIC","CV","Initial","Baseline"]},"legend":{"symbolType":"M-1.6,-0.65H1.6V0.65H-1.6Z","orient":"none","legendX":626,"legendY":104}}}},
{"mark":"bar","encoding":{"y":{"field":"md","type":"quantitative"},"y2":{"field":"md"}}},
{"mark":"point","encoding":{"y":{"field":"mn","type":"quantitative"}}}]},
{"mark":{"type":"rule","color":"#222","strokeDash":[4,2.5],"strokeWidth":1.2},"encoding":{"y":{"datum":0}}}]},
{"width":130,"height":129,"transform":[{"filter":"datum.p=='NP-R0'"}],"layer":[{"encoding":{"x":{"field":"Subject","type":"nominal"},"xOffset":{"field":"Algorithm","type":"nominal","sort":["AIC","CV","Initial","Baseline"]}},"layer":[
{"mark":"rule","encoding":{"y":{"field":"lo","type":"quantitative","title":null,"scale":{"domain":[-0.015,0.73],"nice":false,"zero":false},"axis":{"values":[0,0.2,0.4,0.6],"format":".1f"}},"y2":{"field":"hi"}}},
{"mark":"tick","encoding":{"y":{"field":"lo","type":"quantitative"}}},
{"mark":"tick","encoding":{"y":{"field":"hi","type":"quantitative"}}},
{"mark":"bar","encoding":{"y":{"field":"q1","type":"quantitative"},"y2":{"field":"q3"},"color":{"field":"Algorithm","type":"nominal","scale":{"domain":["AIC","CV","Initial","Baseline"]},"legend":{"symbolType":"M-1.6,-0.65H1.6V0.65H-1.6Z","orient":"none","legendX":626,"legendY":104}}}},
{"mark":"bar","encoding":{"y":{"field":"md","type":"quantitative"},"y2":{"field":"md"}}},
{"mark":"point","encoding":{"y":{"field":"mn","type":"quantitative"}}}]},
{"mark":{"type":"rule","color":"#222","strokeDash":[4,2.5],"strokeWidth":1.2},"encoding":{"y":{"datum":0}}}]},
{"width":126,"height":129,"transform":[{"filter":"datum.p=='NP-R2'"}],"resolve":{"axis":{"y":"independent"}},"layer":[{"encoding":{"x":{"field":"Subject","type":"nominal"},"xOffset":{"field":"Algorithm","type":"nominal","sort":["AIC","CV","Initial","Baseline"]}},"layer":[
{"mark":"rule","encoding":{"y":{"field":"lo","type":"quantitative","title":null,"scale":{"domain":[-0.065,1.69],"nice":false,"zero":false},"axis":{"values":[0,0.5,1,1.5],"format":".1f"}},"y2":{"field":"hi"}}},
{"mark":"tick","encoding":{"y":{"field":"lo","type":"quantitative"}}},
{"mark":"tick","encoding":{"y":{"field":"hi","type":"quantitative"}}},
{"mark":"bar","encoding":{"y":{"field":"q1","type":"quantitative"},"y2":{"field":"q3"},"color":{"field":"Algorithm","type":"nominal","scale":{"domain":["AIC","CV","Initial","Baseline"]},"legend":{"symbolType":"M-1.6,-0.65H1.6V0.65H-1.6Z","orient":"none","legendX":626,"legendY":104}}}},
{"mark":"bar","encoding":{"y":{"field":"md","type":"quantitative"},"y2":{"field":"md"}}},
{"mark":"point","encoding":{"y":{"field":"mn","type":"quantitative"}}}]},
{"mark":{"type":"rule","color":"#222","strokeDash":[4,2.5],"strokeWidth":1.2},"encoding":{"y":{"datum":0,"type":"quantitative","axis":{"title":"Prismaisa","orient":"right","labels":false,"grid":false,"domain":false,"ticks":false,"minExtent":0,"maxExtent":0,"titlePadding":5,"titleAngle":90}}}}]}
]}
]},
{"title":{"text":"Mean error","anchor":"middle","frame":"bounds","offset":4},"spacing":11,"vconcat":[
{"hconcat":[
{"width":123,"height":129,"title":{"text":"ADC"},"transform":[{"filter":"datum.p=='EC-ADC'"}],"layer":[{"encoding":{"x":{"field":"Subject","type":"nominal","title":null,"axis":{"labels":false}},"xOffset":{"field":"Algorithm","type":"nominal","sort":["AIC","CV","Initial","Baseline"]}},"layer":[
{"mark":"rule","encoding":{"y":{"field":"lo","type":"quantitative","title":"Error","scale":{"domain":[-0.37,0.18],"nice":false,"zero":false},"axis":{"values":[-0.3,-0.2,-0.1,0,0.1],"format":".1f","minExtent":19,"maxExtent":19,"titlePadding":0}},"y2":{"field":"hi"}}},
{"mark":"tick","encoding":{"y":{"field":"lo","type":"quantitative"}}},
{"mark":"tick","encoding":{"y":{"field":"hi","type":"quantitative"}}},
{"mark":"bar","encoding":{"y":{"field":"q1","type":"quantitative"},"y2":{"field":"q3"},"color":{"field":"Algorithm","type":"nominal","scale":{"domain":["AIC","CV","Initial","Baseline"]},"legend":{"symbolType":"M-1.6,-0.65H1.6V0.65H-1.6Z","orient":"none","legendX":626,"legendY":104}}}},
{"mark":"bar","encoding":{"y":{"field":"md","type":"quantitative"},"y2":{"field":"md"}}},
{"mark":"point","encoding":{"y":{"field":"mn","type":"quantitative"}}}]},
{"mark":{"type":"rule","color":"#222","strokeDash":[4,2.5],"strokeWidth":1.2},"encoding":{"y":{"datum":0}}}]},
{"width":129,"height":129,"title":{"text":"FA"},"transform":[{"filter":"datum.p=='EC-FA'"}],"layer":[{"encoding":{"x":{"field":"Subject","type":"nominal","title":null,"axis":{"labels":false}},"xOffset":{"field":"Algorithm","type":"nominal","sort":["AIC","CV","Initial","Baseline"]}},"layer":[
{"mark":"rule","encoding":{"y":{"field":"lo","type":"quantitative","title":null,"scale":{"domain":[-0.11,0.24],"nice":false,"zero":false},"axis":{"values":[-0.1,-0.05,0,0.05,0.1,0.15,0.2],"format":".2f"}},"y2":{"field":"hi"}}},
{"mark":"tick","encoding":{"y":{"field":"lo","type":"quantitative"}}},
{"mark":"tick","encoding":{"y":{"field":"hi","type":"quantitative"}}},
{"mark":"bar","encoding":{"y":{"field":"q1","type":"quantitative"},"y2":{"field":"q3"},"color":{"field":"Algorithm","type":"nominal","scale":{"domain":["AIC","CV","Initial","Baseline"]},"legend":{"symbolType":"M-1.6,-0.65H1.6V0.65H-1.6Z","orient":"none","legendX":626,"legendY":104}}}},
{"mark":"bar","encoding":{"y":{"field":"md","type":"quantitative"},"y2":{"field":"md"}}},
{"mark":"point","encoding":{"y":{"field":"mn","type":"quantitative"}}}]},
{"mark":{"type":"rule","color":"#222","strokeDash":[4,2.5],"strokeWidth":1.2},"encoding":{"y":{"datum":0}}}]},
{"width":130,"height":129,"title":{"text":"RISH 0"},"transform":[{"filter":"datum.p=='EC-R0'"}],"layer":[{"encoding":{"x":{"field":"Subject","type":"nominal","title":null,"axis":{"labels":false}},"xOffset":{"field":"Algorithm","type":"nominal","sort":["AIC","CV","Initial","Baseline"]}},"layer":[
{"mark":"rule","encoding":{"y":{"field":"lo","type":"quantitative","title":null,"scale":{"domain":[-0.58,1.22],"nice":false,"zero":false},"axis":{"values":[-0.5,0,0.5,1],"format":".1f"}},"y2":{"field":"hi"}}},
{"mark":"tick","encoding":{"y":{"field":"lo","type":"quantitative"}}},
{"mark":"tick","encoding":{"y":{"field":"hi","type":"quantitative"}}},
{"mark":"bar","encoding":{"y":{"field":"q1","type":"quantitative"},"y2":{"field":"q3"},"color":{"field":"Algorithm","type":"nominal","scale":{"domain":["AIC","CV","Initial","Baseline"]},"legend":{"symbolType":"M-1.6,-0.65H1.6V0.65H-1.6Z","orient":"none","legendX":626,"legendY":104}}}},
{"mark":"bar","encoding":{"y":{"field":"md","type":"quantitative"},"y2":{"field":"md"}}},
{"mark":"point","encoding":{"y":{"field":"mn","type":"quantitative"}}}]},
{"mark":{"type":"rule","color":"#222","strokeDash":[4,2.5],"strokeWidth":1.2},"encoding":{"y":{"datum":0}}}]},
{"width":126,"height":129,"title":{"text":"RISH 2"},"transform":[{"filter":"datum.p=='EC-R2'"}],"resolve":{"axis":{"y":"independent"}},"layer":[{"encoding":{"x":{"field":"Subject","type":"nominal","title":null,"axis":{"labels":false}},"xOffset":{"field":"Algorithm","type":"nominal","sort":["AIC","CV","Initial","Baseline"]}},"layer":[
{"mark":"rule","encoding":{"y":{"field":"lo","type":"quantitative","title":null,"scale":{"domain":[-0.028,0.092],"nice":false,"zero":false},"axis":{"values":[-0.02,0,0.02,0.04,0.06,0.08],"format":".2f"}},"y2":{"field":"hi"}}},
{"mark":"tick","encoding":{"y":{"field":"lo","type":"quantitative"}}},
{"mark":"tick","encoding":{"y":{"field":"hi","type":"quantitative"}}},
{"mark":"bar","encoding":{"y":{"field":"q1","type":"quantitative"},"y2":{"field":"q3"},"color":{"field":"Algorithm","type":"nominal","scale":{"domain":["AIC","CV","Initial","Baseline"]},"legend":{"symbolType":"M-1.6,-0.65H1.6V0.65H-1.6Z","orient":"none","legendX":626,"legendY":104}}}},
{"mark":"bar","encoding":{"y":{"field":"md","type":"quantitative"},"y2":{"field":"md"}}},
{"mark":"point","encoding":{"y":{"field":"mn","type":"quantitative"}}}]},
{"mark":{"type":"rule","color":"#222","strokeDash":[4,2.5],"strokeWidth":1.2},"encoding":{"y":{"datum":0,"type":"quantitative","axis":{"title":"Connectomisa","orient":"right","labels":false,"grid":false,"domain":false,"ticks":false,"minExtent":0,"maxExtent":0,"titlePadding":5,"titleAngle":90}}}}]}
]},
{"hconcat":[
{"width":123,"height":129,"transform":[{"filter":"datum.p=='EP-ADC'"}],"layer":[{"encoding":{"x":{"field":"Subject","type":"nominal"},"xOffset":{"field":"Algorithm","type":"nominal","sort":["AIC","CV","Initial","Baseline"]}},"layer":[
{"mark":"rule","encoding":{"y":{"field":"lo","type":"quantitative","title":"Error","scale":{"domain":[-0.35,0.163],"nice":false,"zero":false},"axis":{"values":[-0.3,-0.2,-0.1,0,0.1],"format":".1f","minExtent":19,"maxExtent":19,"titlePadding":0}},"y2":{"field":"hi"}}},
{"mark":"tick","encoding":{"y":{"field":"lo","type":"quantitative"}}},
{"mark":"tick","encoding":{"y":{"field":"hi","type":"quantitative"}}},
{"mark":"bar","encoding":{"y":{"field":"q1","type":"quantitative"},"y2":{"field":"q3"},"color":{"field":"Algorithm","type":"nominal","scale":{"domain":["AIC","CV","Initial","Baseline"]},"legend":{"symbolType":"M-1.6,-0.65H1.6V0.65H-1.6Z","orient":"none","legendX":626,"legendY":104}}}},
{"mark":"bar","encoding":{"y":{"field":"md","type":"quantitative"},"y2":{"field":"md"}}},
{"mark":"point","encoding":{"y":{"field":"mn","type":"quantitative"}}}]},
{"mark":{"type":"rule","color":"#222","strokeDash":[4,2.5],"strokeWidth":1.2},"encoding":{"y":{"datum":0}}}]},
{"width":129,"height":129,"transform":[{"filter":"datum.p=='EP-FA'"}],"layer":[{"encoding":{"x":{"field":"Subject","type":"nominal"},"xOffset":{"field":"Algorithm","type":"nominal","sort":["AIC","CV","Initial","Baseline"]}},"layer":[
{"mark":"rule","encoding":{"y":{"field":"lo","type":"quantitative","title":null,"scale":{"domain":[-0.098,0.227],"nice":false,"zero":false},"axis":{"values":[-0.05,0,0.05,0.1,0.15,0.2],"format":".2f"}},"y2":{"field":"hi"}}},
{"mark":"tick","encoding":{"y":{"field":"lo","type":"quantitative"}}},
{"mark":"tick","encoding":{"y":{"field":"hi","type":"quantitative"}}},
{"mark":"bar","encoding":{"y":{"field":"q1","type":"quantitative"},"y2":{"field":"q3"},"color":{"field":"Algorithm","type":"nominal","scale":{"domain":["AIC","CV","Initial","Baseline"]},"legend":{"symbolType":"M-1.6,-0.65H1.6V0.65H-1.6Z","orient":"none","legendX":626,"legendY":104}}}},
{"mark":"bar","encoding":{"y":{"field":"md","type":"quantitative"},"y2":{"field":"md"}}},
{"mark":"point","encoding":{"y":{"field":"mn","type":"quantitative"}}}]},
{"mark":{"type":"rule","color":"#222","strokeDash":[4,2.5],"strokeWidth":1.2},"encoding":{"y":{"datum":0}}}]},
{"width":130,"height":129,"transform":[{"filter":"datum.p=='EP-R0'"}],"layer":[{"encoding":{"x":{"field":"Subject","type":"nominal"},"xOffset":{"field":"Algorithm","type":"nominal","sort":["AIC","CV","Initial","Baseline"]}},"layer":[
{"mark":"rule","encoding":{"y":{"field":"lo","type":"quantitative","title":null,"scale":{"domain":[-0.44,1.13],"nice":false,"zero":false},"axis":{"values":[-0.25,0,0.25,0.5,0.75,1],"format":".2f"}},"y2":{"field":"hi"}}},
{"mark":"tick","encoding":{"y":{"field":"lo","type":"quantitative"}}},
{"mark":"tick","encoding":{"y":{"field":"hi","type":"quantitative"}}},
{"mark":"bar","encoding":{"y":{"field":"q1","type":"quantitative"},"y2":{"field":"q3"},"color":{"field":"Algorithm","type":"nominal","scale":{"domain":["AIC","CV","Initial","Baseline"]},"legend":{"symbolType":"M-1.6,-0.65H1.6V0.65H-1.6Z","orient":"none","legendX":626,"legendY":104}}}},
{"mark":"bar","encoding":{"y":{"field":"md","type":"quantitative"},"y2":{"field":"md"}}},
{"mark":"point","encoding":{"y":{"field":"mn","type":"quantitative"}}}]},
{"mark":{"type":"rule","color":"#222","strokeDash":[4,2.5],"strokeWidth":1.2},"encoding":{"y":{"datum":0}}}]},
{"width":126,"height":129,"transform":[{"filter":"datum.p=='EP-R2'"}],"resolve":{"axis":{"y":"independent"}},"layer":[{"encoding":{"x":{"field":"Subject","type":"nominal"},"xOffset":{"field":"Algorithm","type":"nominal","sort":["AIC","CV","Initial","Baseline"]}},"layer":[
{"mark":"rule","encoding":{"y":{"field":"lo","type":"quantitative","title":null,"scale":{"domain":[-0.022,0.087],"nice":false,"zero":false},"axis":{"values":[-0.02,0,0.02,0.04,0.06,0.08],"format":".2f"}},"y2":{"field":"hi"}}},
{"mark":"tick","encoding":{"y":{"field":"lo","type":"quantitative"}}},
{"mark":"tick","encoding":{"y":{"field":"hi","type":"quantitative"}}},
{"mark":"bar","encoding":{"y":{"field":"q1","type":"quantitative"},"y2":{"field":"q3"},"color":{"field":"Algorithm","type":"nominal","scale":{"domain":["AIC","CV","Initial","Baseline"]},"legend":{"symbolType":"M-1.6,-0.65H1.6V0.65H-1.6Z","orient":"none","legendX":626,"legendY":104}}}},
{"mark":"bar","encoding":{"y":{"field":"md","type":"quantitative"},"y2":{"field":"md"}}},
{"mark":"point","encoding":{"y":{"field":"mn","type":"quantitative"}}}]},
{"mark":{"type":"rule","color":"#222","strokeDash":[4,2.5],"strokeWidth":1.2},"encoding":{"y":{"datum":0,"type":"quantitative","axis":{"title":"Prismaisa","orient":"right","labels":false,"grid":false,"domain":false,"ticks":false,"minExtent":0,"maxExtent":0,"titlePadding":5,"titleAngle":90}}}}]}
]}
]}
],
"config":{
"font":"Liberation Sans",
"view":{"stroke":null},
"concat":{"spacing":5},
"range":{"category":["#3274a1","#e1812c","#3a923a","#c03d3e"]},
"scale":{"bandPaddingInner":0.2,"bandPaddingOuter":0.1,"offsetBandPaddingInner":0.1,"offsetBandPaddingOuter":0},
"axis":{"labelFontSize":9,"labelColor":"#333","titleFontSize":10,"titleFontWeight":"normal","titleColor":"#333","gridColor":"#e4e4e4","domainColor":"#d0d0d0","ticks":false,"labelPadding":2},
"axisX":{"grid":false,"labelAngle":0,"titlePadding":2},
"axisY":{"grid":true,"titlePadding":3,"minExtent":22,"maxExtent":22},
"title":{"fontSize":10,"fontWeight":"normal","color":"#333","offset":3,"frame":"group"},
"legend":{"titleFontSize":9,"titleFontWeight":"normal","titleColor":"#333","labelFontSize":9,"labelColor":"#333","symbolSize":110,"symbolStrokeWidth":0,"titleAnchor":"middle","rowPadding":1,"labelOffset":7,"titlePadding":4},
"bar":{"stroke":"#808080","strokeWidth":1},
"tick":{"color":"#808080","thickness":1,"size":3.5,"opacity":1},
"rule":{"color":"#808080","strokeWidth":1},
"point":{"filled":true,"fill":"#000","stroke":"#fff","strokeWidth":0.4,"size":12,"opacity":1}
}
}
